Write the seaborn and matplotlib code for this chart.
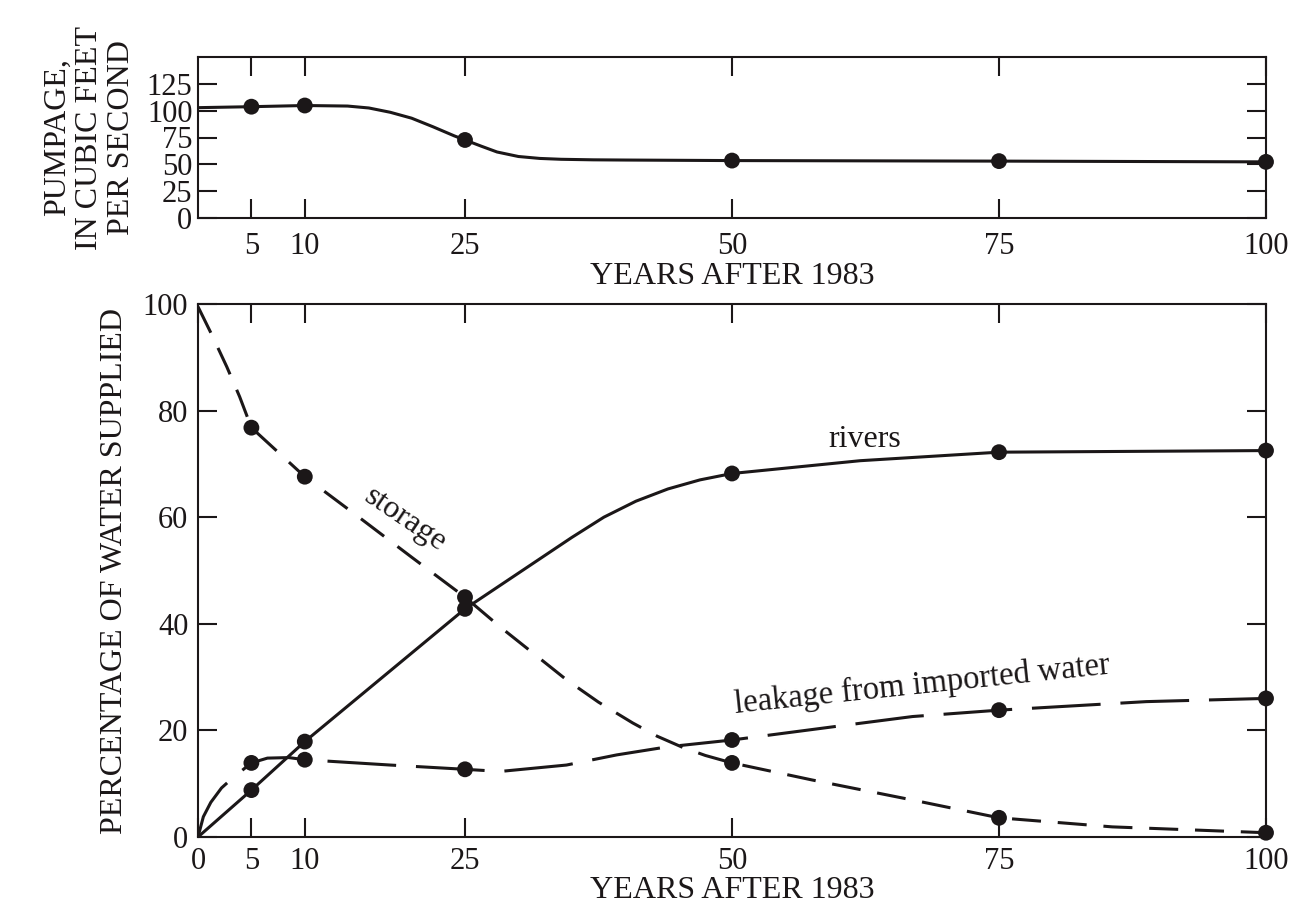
import matplotlib
matplotlib.use("Agg")
import matplotlib.pyplot as plt
import seaborn as sns
import numpy as np
import pandas as pd

# ---------------- data ----------------
# Top panel: pumpage, cubic feet per second
pump_years = [5, 10, 25, 50, 75, 100]
pump_cfs = [103.7, 104.8, 72.7, 53.5, 53.0, 52.3]
# traced points of the drawn curve between the data points
pump_trace_x = [0, 14, 16, 18, 20, 22, 24, 26.5, 28, 30, 32, 34, 37, 40]
pump_trace_y = [102.8, 104.3, 102.5, 98.5, 93.0, 85.0, 76.5, 67.0, 61.5, 57.3,
                55.5, 54.7, 54.2, 54.0]

# Bottom panel: percentage of water supplied
years = [5, 10, 25, 50, 75, 100]
rivers = [8.8, 17.9, 42.8, 68.2, 72.2, 72.5]
storage = [76.8, 67.6, 45.0, 13.9, 3.6, 0.8]
leakage = [13.9, 14.5, 12.7, 18.2, 23.8, 26.0]

rivers_trace_x = [0, 15, 20, 30, 35, 38, 41, 44, 47, 56, 62]
rivers_trace_y = [0, 26.2, 34.5, 49.5, 56.2, 60.0, 63.0, 65.3, 67.0, 69.4, 70.6]

storage_trace_x = [0, 1.3, 2.7, 3.9, 15, 20, 28.3, 31.5, 34.5, 37.5, 40.7, 43,
                   45.4, 47.5, 57.5, 67, 85.6]
storage_trace_y = [99.5, 94.2, 88.2, 82.6, 60.1, 52.5, 39.4, 34.3, 29.5, 25.3,
                   21.4, 18.9, 16.8, 15.3, 10.7, 6.9, 1.9]

leakage_trace_x = [0, 0.5, 1.2, 2.2, 3.2, 6.5, 8.5, 14, 18, 28.3, 34.5, 39.2,
                   43.9, 60.7, 66.9, 88.8]
leakage_trace_y = [0, 3.8, 6.5, 9.2, 11.0, 14.8, 14.9, 14.0, 13.5, 12.3, 13.5,
                   15.4, 16.9, 21.0, 22.6, 25.4]

top_xticks = [5, 10, 25, 50, 75, 100]
bottom_xticks = [0, 5, 10, 25, 50, 75, 100]
top_yticks = [0, 25, 50, 75, 100, 125]
bottom_yticks = [0, 20, 40, 60, 80, 100]


def curve(px, py, tx, ty):
    df = pd.DataFrame({"x": list(px) + list(tx), "y": list(py) + list(ty)})
    return df.sort_values("x").reset_index(drop=True)


# ---------------- style ----------------
sns.set_style("white")
plt.rcParams["font.family"] = ["Liberation Serif", "DejaVu Serif"]
plt.rcParams["axes.linewidth"] = 1.5
INK = "#1b1718"
LW = 2.2
MS = 130

fig = plt.figure(figsize=(13.03, 9.14), dpi=100)
fig.patch.set_facecolor("white")

W, H = 1303.0, 914.0
L, R = 198.0, 1266.0
ax1 = fig.add_axes([L / W, 1 - 218 / H, (R - L) / W, (218 - 57) / H])
ax2 = fig.add_axes([L / W, 1 - 837 / H, (R - L) / W, (837 - 304) / H])

# ---------------- top panel ----------------
pc = curve(pump_years, pump_cfs, pump_trace_x, pump_trace_y)
sns.lineplot(data=pc, x="x", y="y", ax=ax1, color=INK, lw=LW, sort=False,
             estimator=None, legend=False)
sns.scatterplot(x=pump_years, y=pump_cfs, ax=ax1, color=INK, s=MS,
                edgecolor="none", zorder=5, legend=False, clip_on=False)
ax1.set_xlim(0, 100)
ax1.set_ylim(0, 150)
ax1.set_xticks(top_xticks)
ax1.set_xticklabels([str(t) for t in top_xticks])
ax1.set_yticks(top_yticks)
ax1.set_yticklabels([str(t) for t in top_yticks])
ax1.tick_params(axis="x", direction="in", length=14, width=1.5, top=True,
                bottom=True, labelsize=22, pad=10, colors=INK)
ax1.tick_params(axis="y", direction="in", length=14, width=1.5, left=True,
                right=True, labelsize=22, pad=4, colors=INK)
ax1.set_xlabel("YEARS AFTER 1983", fontsize=23, labelpad=1, color=INK)
ax1.set_ylabel("PUMPAGE,\nIN CUBIC FEET\nPER SECOND", fontsize=23,
               linespacing=1.12, labelpad=8, color=INK,
               multialignment="center")

# ---------------- bottom panel ----------------
rc = curve(years, rivers, rivers_trace_x, rivers_trace_y)
sc = curve(years, storage, storage_trace_x, storage_trace_y)
lc = curve(years, leakage, leakage_trace_x, leakage_trace_y)

sns.lineplot(data=rc, x="x", y="y", ax=ax2, color=INK, lw=LW, sort=False,
             estimator=None, legend=False)
sns.lineplot(data=sc, x="x", y="y", ax=ax2, color=INK, lw=LW, sort=False,
             estimator=None, legend=False, linestyle=(0, (9.5, 5.5)))
sns.lineplot(data=lc, x="x", y="y", ax=ax2, color=INK, lw=LW, sort=False,
             estimator=None, legend=False, linestyle=(2, (22.5, 6.5)))
for vals in (rivers, storage, leakage):
    sns.scatterplot(x=years, y=vals, ax=ax2, color=INK, s=MS,
                    edgecolor="none", zorder=5, legend=False, clip_on=False)

ax2.set_xlim(0, 100)
ax2.set_ylim(0, 100)
ax2.set_xticks(bottom_xticks)
ax2.set_xticklabels([str(t) for t in bottom_xticks])
ax2.set_yticks(bottom_yticks)
ax2.set_yticklabels([str(t) for t in bottom_yticks])
ax2.tick_params(axis="x", direction="in", length=14, width=1.5, top=True,
                bottom=True, labelsize=22, pad=7, colors=INK)
ax2.tick_params(axis="y", direction="in", length=14, width=1.5, left=True,
                right=True, labelsize=22, pad=7, colors=INK)
ax2.set_xlabel("YEARS AFTER 1983", fontsize=23, labelpad=0.5, color=INK)
ax2.set_ylabel("PERCENTAGE OF WATER SUPPLIED", fontsize=23, labelpad=10,
               color=INK)

ax2.text(62.4, 74.6, "rivers", fontsize=23, ha="center", va="center",
         color=INK)
ax2.text(19.4, 59.6, "storage", fontsize=23, ha="center", va="center",
         rotation=-34, rotation_mode="anchor", color=INK)
ax2.text(67.8, 28.6, "leakage from imported water", fontsize=23.5,
         ha="center", va="center", rotation=6, rotation_mode="anchor",
         color=INK)

for ax in (ax1, ax2):
    for sp in ax.spines.values():
        sp.set_color(INK)
        sp.set_linewidth(1.5)

fig.savefig("out.png", dpi=100, facecolor="white")
